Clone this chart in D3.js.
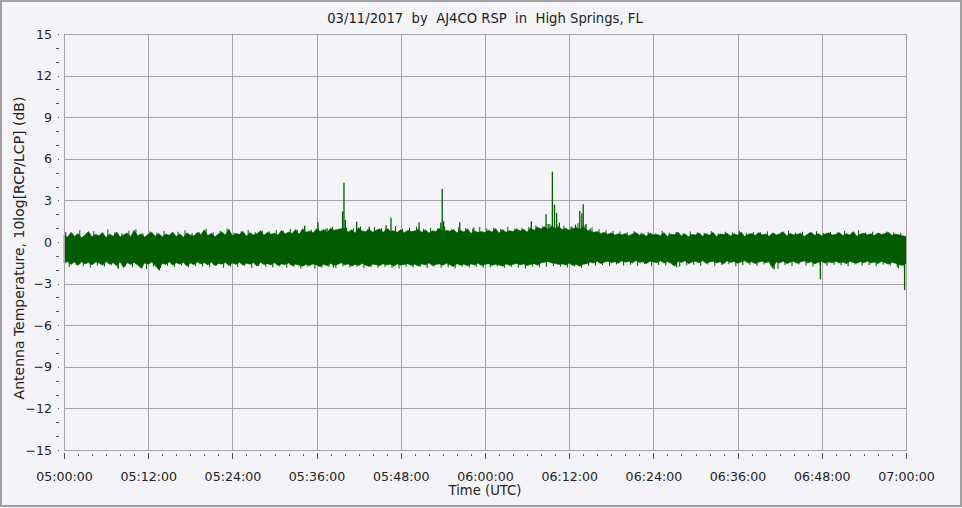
<!DOCTYPE html>
<html>
<head>
<meta charset="utf-8">
<script src="https://cdn.jsdelivr.net/npm/d3@7"></script>
<style>
  html, body { margin: 0; padding: 0; background: #f4f4f8; }
  svg { display: block; font-family: "DejaVu Sans", Verdana, sans-serif; }
  text { white-space: pre; }
</style>
</head>
<body>
<svg id="chart" width="962" height="508"></svg>
<script>
// ---------------- DATA ----------------
const titleText = "03/11/2017  by  AJ4CO RSP  in  High Springs, FL";
const xTitle = "Time (UTC)";
const yTitle = "Antenna Temperature, 10log[RCP/LCP] (dB)";

// minutes after 05:00 UTC
const xTickMinutes = [0, 12, 24, 36, 48, 60, 72, 84, 96, 108, 120];
const xTickLabels = ["05:00:00", "05:12:00", "05:24:00", "05:36:00", "05:48:00", "06:00:00",
                     "06:12:00", "06:24:00", "06:36:00", "06:48:00", "07:00:00"];
const yTicks = [-15, -12, -9, -6, -3, 0, 3, 6, 9, 12, 15];

// Signal envelope: max / min per half-minute bin (dB), t = 0, 0.5, ... 120 min
const bandHigh = [
  0.55,0.35,0.70,0.40,0.62,0.30,0.50,0.75,0.38,0.55,
  0.45,0.68,0.32,0.58,0.42,0.72,0.36,0.52,0.65,0.40,
  0.85,0.45,0.60,0.35,0.55,0.70,0.42,0.62,0.38,0.58,
  0.48,0.72,0.40,0.60,0.35,0.66,0.50,0.44,0.70,0.52,
  0.88,0.46,0.64,0.38,0.58,0.74,0.50,0.92,0.45,0.62,
  0.55,0.78,0.42,0.68,0.50,0.60,0.82,0.48,0.70,0.56,
  0.64,0.50,0.85,0.58,0.72,0.62,0.90,0.55,0.95,0.70,
  0.80,0.66,0.95,0.75,0.90,0.70,1.00,0.85,0.90,0.95,
  1.00,0.72,0.88,0.65,1.05,0.80,0.75,0.92,0.70,0.85,
  0.95,0.68,1.00,0.78,0.82,0.70,0.90,0.66,0.85,0.75,
  0.80,0.92,0.70,0.88,0.65,0.82,0.76,1.00,0.70,0.85,
  0.78,0.90,0.66,0.84,0.72,0.95,0.62,0.80,0.70,0.75,
  0.68,0.85,0.72,0.98,0.65,0.90,0.70,0.82,0.75,0.95,
  0.80,0.92,0.72,1.00,0.85,1.05,0.95,1.10,0.90,1.15,
  1.00,1.10,0.90,1.00,0.85,0.95,1.05,0.90,1.10,0.85,
  0.80,0.70,0.75,0.62,0.70,0.55,0.66,0.50,0.60,0.52,
  0.62,0.45,0.58,0.70,0.48,0.60,0.42,0.65,0.50,0.55,
  0.45,0.68,0.40,0.58,0.52,0.72,0.44,0.60,0.38,0.56,
  0.50,0.66,0.42,0.62,0.48,0.70,0.40,0.58,0.54,0.64,
  0.44,0.60,0.50,0.72,0.40,0.56,0.62,0.46,0.68,0.52,
  0.58,0.42,0.66,0.50,0.60,0.74,0.45,0.62,0.52,0.56,
  0.64,0.40,0.58,0.70,0.48,0.62,0.44,0.60,0.66,0.50,
  0.56,0.68,0.46,0.62,0.50,0.76,0.42,0.58,0.64,0.52,
  0.60,0.46,0.66,0.54,0.62,0.70,0.48,0.58,0.52,0.45,
  0.40
];
const bandLow = [
  -1.55,-1.40,-1.62,-1.45,-1.70,-1.42,-1.58,-1.48,-1.65,-1.44,
  -1.52,-1.68,-1.40,-1.60,-1.50,-1.72,-1.45,-1.85,-1.50,-1.62,
  -1.48,-1.66,-1.90,-1.52,-1.60,-1.45,-1.70,-2.00,-1.55,-1.62,
  -1.42,-1.68,-1.50,-1.60,-1.46,-1.75,-1.52,-1.64,-1.44,-1.58,
  -1.50,-1.66,-1.45,-1.72,-1.55,-1.60,-1.48,-1.70,-1.52,-1.62,
  -1.46,-1.68,-1.54,-1.60,-1.50,-1.74,-1.48,-1.62,-1.56,-1.66,
  -1.50,-1.70,-1.58,-1.64,-1.52,-1.72,-1.60,-1.68,-1.75,-1.62,
  -1.70,-1.58,-1.66,-1.78,-1.60,-1.72,-1.55,-1.68,-1.62,-1.50,
  -1.66,-1.58,-1.74,-1.62,-1.70,-1.55,-1.68,-1.76,-1.60,-1.64,
  -1.72,-1.56,-1.66,-1.60,-1.74,-1.58,-1.68,-1.62,-1.56,-1.70,
  -1.60,-1.74,-1.58,-1.66,-1.52,-1.70,-1.62,-1.58,-1.68,-1.54,
  -1.64,-1.78,-1.56,-1.68,-1.60,-1.72,-1.58,-1.66,-1.54,-1.70,
  -1.62,-1.56,-1.70,-1.60,-1.66,-1.74,-1.58,-1.68,-1.62,-1.55,
  -1.66,-1.58,-1.70,-1.62,-1.56,-1.68,-1.50,-1.46,-1.40,-1.52,
  -1.55,-1.62,-1.58,-1.66,-1.54,-1.70,-1.62,-1.74,-1.60,-1.56,
  -1.45,-1.52,-1.40,-1.56,-1.46,-1.38,-1.50,-1.42,-1.54,-1.36,
  -1.46,-1.40,-1.52,-1.34,-1.48,-1.42,-1.56,-1.38,-1.44,-1.50,
  -1.36,-1.52,-1.42,-1.54,-1.74,-1.40,-1.48,-1.36,-1.56,-1.44,
  -1.40,-1.50,-1.34,-1.54,-1.44,-1.38,-1.52,-1.42,-1.58,-1.36,
  -1.48,-1.40,-1.54,-1.44,-1.36,-1.52,-1.42,-1.56,-1.46,-1.38,
  -1.50,-1.42,-1.90,-1.44,-1.52,-1.38,-1.56,-1.46,-1.40,-1.54,
  -1.44,-1.36,-1.52,-1.42,-1.58,-1.46,-1.40,-1.54,-1.44,-1.50,
  -1.38,-1.52,-1.44,-1.56,-1.40,-1.48,-1.54,-1.42,-1.50,-1.38,
  -1.52,-1.44,-1.56,-1.40,-1.50,-1.60,-1.46,-1.54,-1.64,-1.70,
  -1.55
];
// Fine noise tips, one per minute: upward at t = i + 0.25, downward at t = i + 0.75
const fuzzUp = [
  0.72,0.60,0.85,0.66,0.78,0.58,0.90,0.70,0.64,0.82,
  0.92,0.62,0.76,0.68,0.80,0.60,0.74,0.86,0.66,0.72,
  0.95,0.70,0.82,0.98,0.68,0.78,0.88,0.72,0.84,0.76,
  0.86,0.80,0.95,0.90,1.05,0.88,1.00,0.92,1.10,0.96,
  1.05,0.98,1.12,0.90,1.08,1.00,0.94,1.15,0.96,1.04,
  1.10,0.95,1.02,0.98,1.12,0.92,1.06,1.00,0.96,1.08,
  0.98,1.04,0.94,1.10,0.96,1.02,1.08,1.20,1.15,1.30,
  1.25,1.18,1.10,1.35,1.20,1.05,0.92,0.85,0.80,0.76,
  0.70,0.78,0.66,0.74,0.62,0.80,0.68,0.72,0.64,0.76,
  0.70,0.66,0.78,0.62,0.74,0.68,0.80,0.64,0.72,0.70,
  0.76,0.62,0.70,0.82,0.66,0.74,0.68,0.78,0.64,0.72,
  0.70,0.80,0.66,0.85,0.68,0.74,0.62,0.76,0.70,0.66
];
const fuzzDown = [
  -1.80,-1.66,-1.75,-1.85,-1.70,-1.78,-1.68,-1.92,-1.74,-1.82,
  -1.70,-1.95,-1.76,-1.88,-1.72,-1.80,-1.68,-1.84,-1.74,-1.78,
  -1.82,-1.70,-1.86,-1.76,-1.80,-1.72,-1.88,-1.74,-1.78,-1.84,
  -1.76,-1.86,-1.80,-1.90,-1.78,-1.92,-1.84,-1.80,-1.88,-1.76,
  -1.84,-1.78,-1.90,-1.82,-1.86,-1.80,-1.88,-1.92,-1.78,-1.84,
  -1.80,-1.88,-1.76,-1.86,-1.82,-1.90,-1.78,-1.84,-1.80,-1.86,
  -1.82,-1.76,-1.88,-1.80,-1.86,-1.92,-1.78,-1.84,-1.80,-1.74,
  -1.78,-1.84,-1.76,-1.88,-1.72,-1.70,-1.66,-1.74,-1.62,-1.70,
  -1.64,-1.72,-1.60,-1.76,-1.66,-1.70,-1.62,-1.80,-1.68,-1.64,
  -1.72,-1.62,-1.74,-1.66,-1.60,-1.76,-1.68,-1.64,-1.72,-1.62,
  -1.70,-1.94,-1.66,-1.74,-1.62,-1.70,-1.78,-1.66,-1.72,-1.64,
  -1.68,-1.74,-1.62,-1.70,-1.66,-1.76,-1.64,-1.72,-1.80,-1.86
];
// Sharp upward excursions: [minute, dB]
const peaks = [
  [34.3,1.18],[36.2,1.42],[37.5,1.00],[39.7,2.20],[39.9,4.28],[40.1,1.60],
  [41.7,1.47],[43.5,1.10],[45.9,1.20],[46.6,1.75],[50.6,1.42],[53.7,1.40],
  [53.9,3.82],[54.1,1.50],[56.4,1.42],[58.4,1.05],[66.6,1.50],[67.4,1.10],
  [68.7,2.00],[69.0,1.30],[69.6,5.07],[69.9,2.70],[70.2,2.10],[70.6,1.40],
  [72.4,1.10],[72.9,1.25],[73.5,2.24],[73.8,2.05],[74.0,2.72],[74.4,1.30],
  [75.0,0.95]
];
// Sharp downward excursions: [minute, dB]
const dips = [
  [7.7,-1.90],[11.1,-1.90],[13.6,-2.05],[38.4,-1.85],[87.3,-1.82],
  [101.2,-1.97],[107.8,-2.69],[118.9,-1.90],[119.8,-3.46]
];

// ---------------- DRAW ----------------
const W = 962, H = 508;
const plot = { left: 64, right: 906, top: 34, bottom: 450 };
const svg = d3.select("#chart");
const green = "#005c00";
const gridColor = "#a4a4a4";
const textColor = "#222";
const tickFont = 12.6;

svg.append("rect").attr("x", 0).attr("y", 0).attr("width", W).attr("height", H)
  .attr("fill", "#f4f4f8");
svg.append("rect").attr("x", 1).attr("y", 1).attr("width", W - 2).attr("height", H - 3)
  .attr("fill", "none").attr("stroke", "#a0a0a0").attr("stroke-width", 2);

const x = d3.scaleLinear().domain([0, 120]).range([plot.left, plot.right]);
const y = d3.scaleLinear().domain([-15, 15]).range([plot.bottom, plot.top]);

// grid
const grid = svg.append("g").attr("stroke", gridColor).attr("stroke-width", 1)
  .attr("shape-rendering", "crispEdges");
grid.selectAll("line.v").data(xTickMinutes).join("line")
  .attr("x1", d => Math.round(x(d)) + 0.5).attr("x2", d => Math.round(x(d)) + 0.5)
  .attr("y1", plot.top).attr("y2", plot.bottom);
grid.selectAll("line.h").data(yTicks).join("line")
  .attr("y1", d => Math.round(y(d)) + 0.5).attr("y2", d => Math.round(y(d)) + 0.5)
  .attr("x1", plot.left).attr("x2", plot.right);

// signal band
const area = d3.area()
  .x((d, i) => x(i * 0.5))
  .y0((d, i) => y(bandLow[i]))
  .y1((d, i) => y(bandHigh[i]));
svg.append("path").datum(bandHigh).attr("d", area)
  .attr("fill", green).attr("stroke", green).attr("stroke-width", 0.5);

const sig = svg.append("g").attr("stroke", green);
sig.selectAll("line.fu").data(fuzzUp).join("line").attr("class", "fu")
  .attr("x1", (d, i) => x(i + 0.25)).attr("x2", (d, i) => x(i + 0.25))
  .attr("y1", y(-0.5)).attr("y2", d => y(d)).attr("stroke-width", 1);
sig.selectAll("line.fd").data(fuzzDown).join("line").attr("class", "fd")
  .attr("x1", (d, i) => x(i + 0.75)).attr("x2", (d, i) => x(i + 0.75))
  .attr("y1", y(-0.5)).attr("y2", d => y(d)).attr("stroke-width", 1);
sig.selectAll("line.pk").data(peaks).join("line").attr("class", "pk")
  .attr("x1", d => x(d[0])).attr("x2", d => x(d[0]))
  .attr("y1", y(-0.5)).attr("y2", d => y(d[1])).attr("stroke-width", 1.3);
sig.selectAll("line.dp").data(dips).join("line").attr("class", "dp")
  .attr("x1", d => x(d[0])).attr("x2", d => x(d[0]))
  .attr("y1", y(-0.5)).attr("y2", d => y(d[1])).attr("stroke-width", 1.3);

// y axis ticks (minor dashes every 1 dB, dot at majors)
const yMinor = d3.range(-15, 16, 1).filter(v => v % 3 !== 0);
svg.append("g").selectAll("line").data(yMinor).join("line")
  .attr("x1", 56).attr("x2", 59)
  .attr("y1", d => Math.round(y(d)) + 0.5).attr("y2", d => Math.round(y(d)) + 0.5)
  .attr("stroke", "#555").attr("shape-rendering", "crispEdges");
svg.append("g").selectAll("rect").data(yTicks).join("rect")
  .attr("x", 58).attr("y", d => Math.round(y(d)))
  .attr("width", 1).attr("height", 1).attr("fill", "#555");

const yAxis = d3.axisLeft(y).tickValues(yTicks).tickSize(0).tickPadding(0)
  .tickFormat(d => d3.format("d")(d).replace("-", "\u2212"));
const gy = svg.append("g").attr("transform", `translate(${plot.left - 12},0)`).call(yAxis);
gy.select(".domain").remove();
gy.selectAll("text").attr("font-size", tickFont).attr("fill", textColor)
  .attr("font-family", "DejaVu Sans, Verdana, sans-serif");

// x axis ticks
const xMinor = d3.range(0, 121, 2).filter(v => v % 12 !== 0);
svg.append("g").selectAll("line").data(xMinor).join("line")
  .attr("x1", d => Math.round(x(d)) + 0.5).attr("x2", d => Math.round(x(d)) + 0.5)
  .attr("y1", 454).attr("y2", 456)
  .attr("stroke", "#4a5676").attr("shape-rendering", "crispEdges");
const xAxis = d3.axisBottom(x).tickValues(xTickMinutes).tickSize(6).tickPadding(13)
  .tickFormat((d, i) => xTickLabels[i]);
const gx = svg.append("g").attr("transform", `translate(0,${plot.bottom + 3})`).call(xAxis);
gx.select(".domain").remove();
gx.selectAll("line").attr("stroke", "#4a5676").attr("shape-rendering", "crispEdges");
gx.selectAll("text").attr("font-size", tickFont).attr("fill", textColor)
  .attr("font-family", "DejaVu Sans, Verdana, sans-serif");

// plot frame
svg.append("rect").attr("x", plot.left + 0.5).attr("y", plot.top + 0.5)
  .attr("width", plot.right - plot.left).attr("height", plot.bottom - plot.top)
  .attr("fill", "none").attr("stroke", gridColor).attr("shape-rendering", "crispEdges");

// titles
svg.append("text").attr("x", 485).attr("y", 23).attr("text-anchor", "middle")
  .attr("font-size", 13.2).attr("fill", textColor).text(titleText);
svg.append("text").attr("x", 485).attr("y", 495).attr("text-anchor", "middle")
  .attr("font-size", 13.2).attr("fill", textColor).text(xTitle);
svg.append("text").attr("transform", "translate(24,248) rotate(-90)")
  .attr("text-anchor", "middle").attr("font-size", 14).attr("fill", textColor).text(yTitle);
</script>
</body>
</html>
